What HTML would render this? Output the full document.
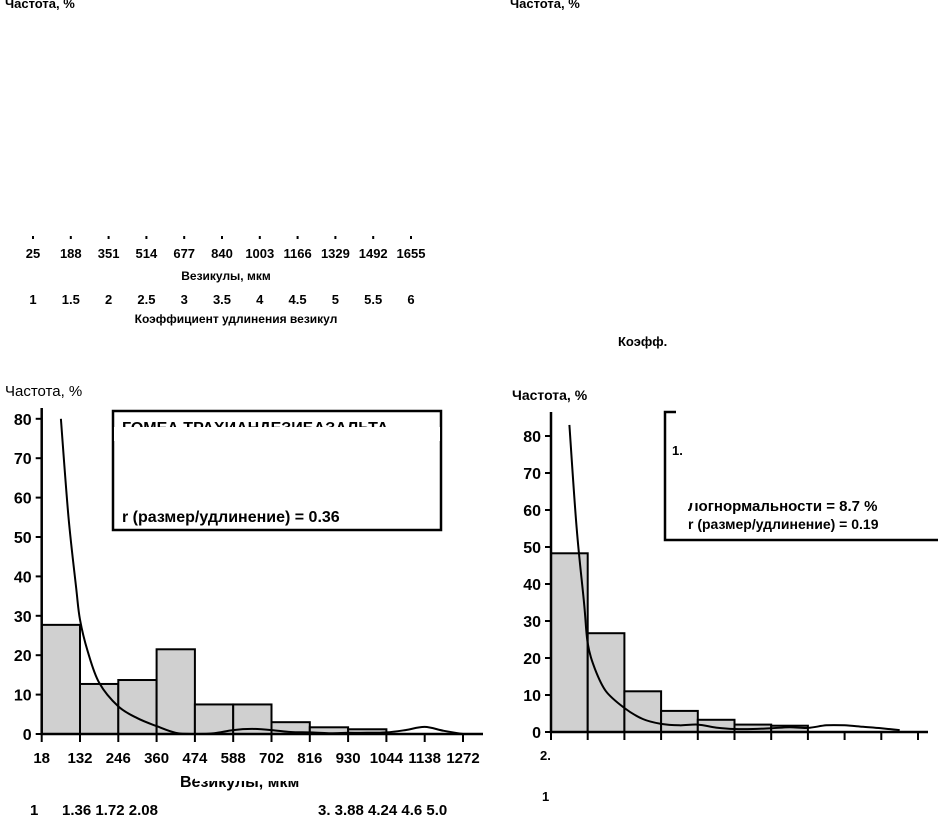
<!DOCTYPE html>
<html><head><meta charset="utf-8">
<style>
html,body{margin:0;padding:0;background:#fff;}
svg{display:block;font-family:"Liberation Sans",Arial,sans-serif;font-weight:bold;}
</style></head>
<body>
<svg id="s" width="938" height="818" viewBox="0 0 938 818" xmlns="http://www.w3.org/2000/svg">
<g>
<text x="5" y="8" font-size="13">Частота, %</text>
<g id="tlTicks" font-size="13" text-anchor="middle"></g>
<text x="226" y="280" font-size="12" text-anchor="middle">Везикулы, мкм</text>
<text x="236" y="323" font-size="12" text-anchor="middle">Коэффициент удлинения везикул</text>
</g>
<g>
<text x="510" y="8" font-size="13">Частота, %</text>
<text x="618" y="346" font-size="13">Коэфф.</text>
</g>
<g id="bl"></g>
<g id="br"></g>
</svg>
<script>
const NS="http://www.w3.org/2000/svg";
function mk(p,t,a,txt){const e=document.createElementNS(NS,t);for(const k in a)e.setAttribute(k,a[k]);if(txt!==undefined)e.textContent=txt;p.appendChild(e);return e;}

// top-left residual tick labels
const tlLabels=["25","188","351","514","677","840","1003","1166","1329","1492","1655"];
const tlLabels2=["1","1.5","2","2.5","3","3.5","4","4.5","5","5.5","6"];
const tl=document.getElementById('tlTicks');
tlLabels.forEach((l,i)=>{const x=33+i*37.8;
 const t=mk(tl,'text',{x:x,y:258},l);
 
 
 const t2=mk(tl,'text',{x:x,y:304},tlLabels2[i]);
 
 
 const m=mk(tl,'rect',{x:x-1,y:236,width:2,height:3,fill:'#000'});
 
 
});

// ---- bottom-left data ----
const blBins=["18","132","246","360","474","588","702","816","930","1044","1138","1272"];
const blValues=[27.7,12.7,13.7,21.5,7.5,7.5,3,1.7,1.2];
const blCurveX=[0.5,0.7,0.9,1.0,1.2,1.5,2,2.5,3,3.5,4,4.5,5,5.5,6,6.5,7,7.5,8,8.5,9,9.5,10,10.5,11];
const blCurveY=[80,55,37,29,21,13,7,4,2,0.3,0,0.2,1,1.3,1,0.5,0.4,0.2,0.3,0.3,0.4,1,1.8,0.8,0];
const blYTicks=[0,10,20,30,40,50,60,70,80];

// ---- bottom-right data ----
const brValues=[48.3,26.7,11,5.7,3.3,2,1.7];
const brCurveX=[0.5,0.7,0.9,1.0,1.2,1.5,2,2.5,3,3.5,4,4.5,5,5.5,6,6.5,7,7.5,8,8.5,9,9.5];
const brCurveY=[83,55,35,24,17,11,6.5,3.5,2.2,1.8,2,1.2,0.8,0.8,1,1.3,1.1,1.8,1.8,1.4,1,0.5];
const brYTicks=[0,10,20,30,40,50,60,70,80];

function smooth(pts){
 let d='M'+pts[0][0].toFixed(1)+' '+pts[0][1].toFixed(1);
 for(let i=0;i<pts.length-1;i++){
  const p0=pts[Math.max(i-1,0)],p1=pts[i],p2=pts[i+1],p3=pts[Math.min(i+2,pts.length-1)];
  const c1x=p1[0]+(p2[0]-p0[0])/6,c1y=p1[1]+(p2[1]-p0[1])/6;
  const c2x=p2[0]-(p3[0]-p1[0])/6,c2y=p2[1]-(p3[1]-p1[1])/6;
  d+=`C${c1x.toFixed(1)} ${c1y.toFixed(1)} ${c2x.toFixed(1)} ${c2y.toFixed(1)} ${p2[0].toFixed(1)} ${p2[1].toFixed(1)}`;
 }
 return d;
}

function chart(g,o){
 const X=i=>o.x0+i*o.bw, Y=v=>o.y0-v*o.py;
 o.values.forEach((v,i)=>{const r=mk(g,'rect',{x:X(i),y:Y(v),width:o.bw,height:o.y0-Y(v),fill:'#d0d0d0',stroke:'#000','stroke-width':2});
  
  });
 const pts=o.cx.map((c,i)=>[X(c),Y(o.cy[i])]);
 const p=mk(g,'path',{d:smooth(pts),fill:'none',stroke:'#000','stroke-width':2,'stroke-linejoin':'round'});
 
 
 const ax=mk(g,'path',{d:`M${o.x0} ${o.ytop}V${o.y0}H${o.xend}`,fill:'none',stroke:'#000','stroke-width':2.5});
 
 
 o.yt.forEach(v=>{mk(g,'line',{x1:o.x0-6,x2:o.x0,y1:Y(v),y2:Y(v),stroke:'#000','stroke-width':2});
  const t=mk(g,'text',{x:o.x0-10,y:Y(v)+6,'font-size':16,'text-anchor':'end'},String(v));
  
  });
 for(let i=0;i<=o.nt;i++){mk(g,'line',{x1:X(i),x2:X(i),y1:o.y0,y2:o.y0+8,stroke:'#000','stroke-width':2});
  if(o.xl){const t=mk(g,'text',{x:X(i),y:o.y0+29,'font-size':15,'text-anchor':'middle'},o.xl[i]);
   
   }}
 return {X,Y};
}
const bl=document.getElementById('bl');
mk(bl,'text',{x:5,y:396,'font-size':15,'font-weight':'normal'},'Частота, %');
chart(bl,{x0:41.7,y0:734,py:3.94,bw:38.3,values:blValues,cx:blCurveX,cy:blCurveY,yt:blYTicks,ytop:408,xend:483,nt:11,xl:blBins});
const lb=mk(bl,'rect',{x:113,y:411,width:328,height:119,fill:'#fff',stroke:'#000','stroke-width':2.5});


mk(bl,'text',{x:122,y:433,'font-size':16},'ГОМЕА ТРАХИАНДЕЗИБАЗАЛЬТА');
mk(bl,'rect',{x:114,y:427,width:326,height:14,fill:'#fff'});
mk(bl,'text',{x:122,y:522,'font-size':16},'r (размер/удлинение) =  0.36');
mk(bl,'text',{x:180,y:787,'font-size':16},'Везикулы, мкм');
mk(bl,'rect',{x:195,y:773,width:140,height:8,fill:'#fff'});
mk(bl,'text',{x:30,y:815,'font-size':15},'1');
mk(bl,'text',{x:62,y:815,'font-size':15},'1.36 1.72  2.08');
mk(bl,'text',{x:318,y:815,'font-size':15},'3.  3.88 4.24 4.6   5.0');
mk(bl,'rect',{x:55,y:799,width:390,height:6,fill:'#fff'});

const br=document.getElementById('br');
mk(br,'text',{x:512,y:400,'font-size':14},'Частота, %');
chart(br,{x0:551,y0:732,py:3.7,bw:36.7,values:brValues,cx:brCurveX,cy:brCurveY,yt:brYTicks,ytop:412,xend:928,nt:10,xl:null});
const lb2=mk(br,'path',{d:'M676 412H665V540H940',fill:'none',stroke:'#000','stroke-width':2.5});


mk(br,'text',{x:672,y:455,'font-size':13},'1.');
mk(br,'text',{x:688,y:511,'font-size':15},'Логнормальности = 8.7 %');
mk(br,'rect',{x:686,y:495,width:140,height:8,fill:'#fff'});
mk(br,'text',{x:688,y:529,'font-size':14},'r (размер/удлинение) = 0.19');
mk(br,'text',{x:540,y:760,'font-size':13},'2.');
mk(br,'text',{x:542,y:801,'font-size':13},'1');
</script>
</body></html>
